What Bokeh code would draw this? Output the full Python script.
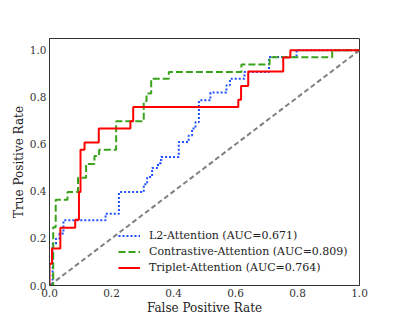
from bokeh.plotting import figure
from bokeh.models import Range1d, FixedTicker, Legend, LegendItem, NumeralTickFormatter
from bokeh.embed import file_html
from bokeh.resources import INLINE

# ---- data (ROC points) ----
l2_fpr = [0, 0.01, 0.01, 0.021, 0.021, 0.032, 0.032, 0.045, 0.045, 0.181, 0.181, 0.224, 0.224,
          0.304, 0.304, 0.315, 0.315, 0.331, 0.331, 0.35, 0.35, 0.36, 0.36, 0.417, 0.417, 0.449,
          0.449, 0.46, 0.46, 0.471, 0.471, 0.482, 0.482, 0.519, 0.519, 0.571, 0.571, 0.582, 0.582,
          0.629, 0.629, 0.708, 0.708, 0.797, 0.797, 1.0]
l2_tpr = [0, 0, 0.178, 0.178, 0.2, 0.2, 0.221, 0.221, 0.277, 0.277, 0.305, 0.305, 0.397,
          0.397, 0.43, 0.43, 0.461, 0.461, 0.5, 0.5, 0.52, 0.52, 0.546, 0.546, 0.61, 0.61,
          0.638, 0.638, 0.667, 0.667, 0.695, 0.695, 0.787, 0.787, 0.82, 0.82, 0.851, 0.851, 0.879,
          0.879, 0.908, 0.908, 0.971, 0.971, 1.0, 1.0]

con_fpr = [0, 0.012, 0.012, 0.02, 0.02, 0.058, 0.058, 0.092, 0.092, 0.118, 0.118, 0.145, 0.145,
           0.16, 0.16, 0.215, 0.215, 0.304, 0.304, 0.313, 0.313, 0.328, 0.328, 0.385, 0.385,
           0.619, 0.619, 0.71, 0.71, 0.912, 0.912, 1.0]
con_tpr = [0, 0, 0.248, 0.248, 0.364, 0.364, 0.397, 0.397, 0.458, 0.458, 0.517, 0.517, 0.551,
           0.551, 0.577, 0.577, 0.698, 0.698, 0.783, 0.783, 0.816, 0.816, 0.879, 0.879, 0.908,
           0.908, 0.94, 0.94, 0.97, 0.97, 1.0, 1.0]

tri_fpr = [0, 0, 0.008, 0.008, 0.035, 0.035, 0.083, 0.083, 0.095, 0.095, 0.1, 0.1, 0.113, 0.113,
           0.159, 0.159, 0.261, 0.261, 0.27, 0.27, 0.609, 0.609, 0.618, 0.618, 0.641, 0.641,
           0.754, 0.754, 0.777, 0.777, 1.0]
tri_tpr = [0, 0.092, 0.092, 0.157, 0.157, 0.245, 0.245, 0.279, 0.279, 0.397, 0.397, 0.577, 0.577,
           0.608, 0.608, 0.667, 0.667, 0.698, 0.698, 0.759, 0.759, 0.79, 0.79, 0.848, 0.848, 0.91,
           0.91, 0.969, 0.969, 1.0, 1.0]

chance = [0.0, 1.0]
labels = ["L2-Attention (AUC=0.671)", "Contrastive-Attention (AUC=0.809)",
          "Triplet-Attention (AUC=0.764)"]
ticks = [0.0, 0.2, 0.4, 0.6, 0.8, 1.0]

FONT = "DejaVu Serif"

p = figure(width=399, height=319, output_backend="svg", toolbar_location=None,
           x_range=Range1d(0, 1.0), y_range=Range1d(0, 1.05),
           min_border_left=49, min_border_right=40, min_border_top=38, min_border_bottom=34)

p.xgrid.visible = False
p.ygrid.visible = False
p.outline_line_color = "#333333"
p.outline_line_width = 1

for ax in (p.xaxis[0], p.yaxis[0]):
    ax.ticker = FixedTicker(ticks=ticks)
    ax.formatter = NumeralTickFormatter(format="0.0")
    ax.major_tick_out = 0
    ax.major_tick_in = 0
    ax.minor_tick_out = 0
    ax.minor_tick_in = 0
    ax.axis_line_color = "#333333"
    ax.major_label_text_font = FONT
    ax.major_label_text_font_size = "10.5px"
    ax.major_label_text_color = "#333333"
    ax.axis_label_text_font = FONT
    ax.axis_label_text_font_size = "12px"
    ax.axis_label_text_font_style = "normal"
    ax.axis_label_text_color = "#222222"
    ax.major_label_standoff = 3
    ax.axis_label_standoff = 1

p.xaxis.axis_label = "False Positive Rate"
p.yaxis.axis_label = "True Positive Rate"

p.line(chance, chance, line_color="#808080", line_width=2, line_dash="5 3")
r1 = p.line(l2_fpr, l2_tpr, line_color="#1f4fff", line_width=2, line_dash="2 2")
r2 = p.line(con_fpr, con_tpr, line_color="#3aa31a", line_width=2, line_dash="7 3")
r3 = p.line(tri_fpr, tri_tpr, line_color="#ff0000", line_width=2)

legend = Legend(items=[LegendItem(label=labels[0], renderers=[r1]),
                       LegendItem(label=labels[1], renderers=[r2]),
                       LegendItem(label=labels[2], renderers=[r3])],
                location=(69, 10))
legend.label_text_font = FONT
legend.label_text_font_size = "11px"
legend.label_text_color = "#222222"
legend.glyph_width = 22
legend.glyph_height = 15
legend.label_height = 15
legend.label_standoff = 9
legend.spacing = 1
legend.padding = 0
legend.margin = 0
legend.background_fill_alpha = 0
legend.border_line_alpha = 0
p.add_layout(legend, "center")

open("out.html", "w").write(file_html(p, INLINE))
